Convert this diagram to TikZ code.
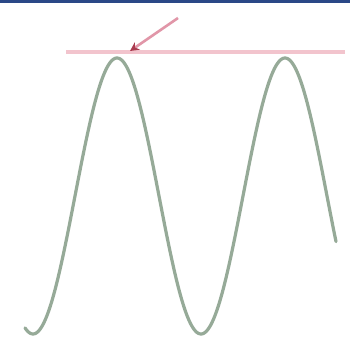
\documentclass[tikz,border=0pt]{standalone}
\usetikzlibrary{arrows.meta}
\definecolor{topbar}{RGB}{42,72,135}
\definecolor{wave}{RGB}{150,170,152}
\definecolor{peakline}{RGB}{242,196,205}
\definecolor{arrowline}{RGB}{225,150,168}
\definecolor{arrowtip}{RGB}{170,60,80}
\tikzset{
  wavestyle/.style={draw=wave, line width=3.2pt, line join=round, line cap=round},
  peakstyle/.style={draw=peakline, line width=4.5pt},
  pointer/.style={draw=arrowline, line width=2.6pt, -{Stealth[length=9pt,width=9pt,fill=arrowtip,color=arrowtip]}}
}
\begin{document}
\begin{tikzpicture}[x=1pt,y=-1pt]
\useasboundingbox (0,0) rectangle (350,348);
\fill[white] (0,0) rectangle (350,348);
\fill[topbar] (0,0) rectangle (350,2.5);
\draw[peakstyle] (66,52) -- (345,52);
\draw[wavestyle] plot[domain=25:336,samples=240,smooth] (\x,{196-138*cos(2.142857*(\x-117))});
\coordinate (tail) at (178,18);
\coordinate (head) at (130,51);
\draw[pointer] (tail) -- (head);
\end{tikzpicture}
\end{document}
